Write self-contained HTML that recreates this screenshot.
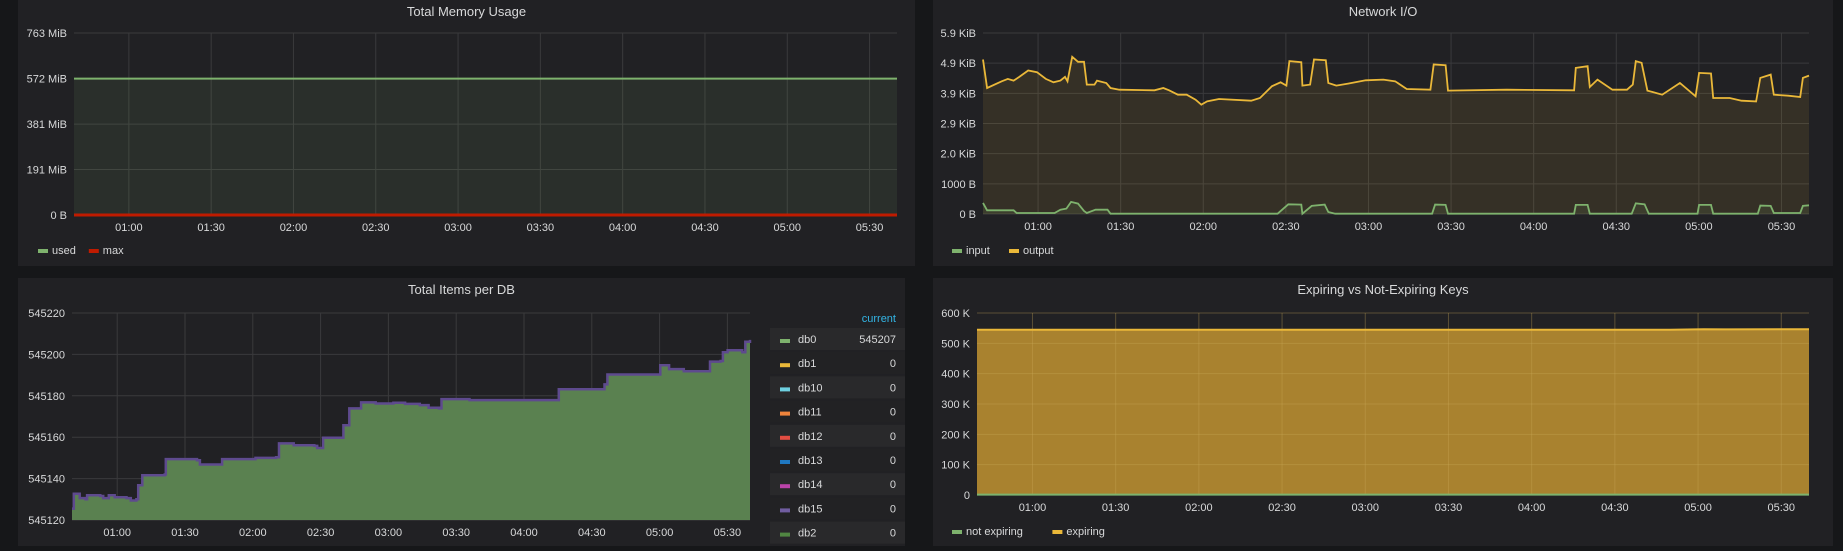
<!DOCTYPE html>
<html><head><meta charset="utf-8">
<style>
html,body{margin:0;padding:0;background:#161719;width:1843px;height:551px;overflow:hidden;font-family:"Liberation Sans",sans-serif;}
svg{display:block}
text{font-family:"Liberation Sans",sans-serif;fill:#d8d9da}
</style></head>
<body>
<svg id="root" width="1843" height="551"></svg>
<script>
// ---------- data ----------
const timeTicks=["01:00","01:30","02:00","02:30","03:00","03:30","04:00","04:30","05:00","05:30"];
const timeTickMin=[20,50,80,110,140,170,200,230,260,290];
// memory
const memTicks=["0 B","191 MiB","381 MiB","572 MiB","763 MiB"];
const memTickVals=[0,191,381,572,763];
const memUsedMin=[0,300];
const memUsed=[572,572];
const memMax=[0,0];
// network
const netTicks=["0 B","1000 B","2.0 KiB","2.9 KiB","3.9 KiB","4.9 KiB","5.9 KiB"];
const netTickVals=[0,1000,2000,3000,4000,5000,6000];
const outMin=[0,1.5,6.8,9.0,11.1,13.2,16.4,19.6,22.8,25.6,28.1,29.8,30.7,32.4,34.5,36.7,37.7,40.5,41.4,44.8,46.3,49.5,62.3,65.5,67.6,70.8,74.0,77.2,79.3,81.4,85.7,97.4,100.6,104.9,108.1,110.2,111.3,115.6,116.0,118.8,120.2,124.5,125.4,128.3,132.6,139.0,145.4,149.7,153.9,162.5,163.7,168.0,168.9,190.2,214.7,215.3,219.6,220.4,223.2,228.6,233.9,236.0,237.1,239.2,241.3,246.7,253.1,258.8,260.1,264.4,265.2,271.2,275.5,280.8,282.3,286.1,287.2,292.5,296.8,297.8,300];
const outVals=[5122,4178,4400,4478,4422,4544,4756,4700,4478,4367,4422,4544,4400,5211,5044,5044,4289,4289,4422,4344,4178,4122,4100,4178,4100,3956,3956,3789,3622,3733,3811,3756,3844,4233,4367,4256,5067,5033,4256,4289,5122,5100,4344,4256,4322,4433,4456,4400,4144,4122,4956,4933,4089,4122,4100,4844,4900,4211,4456,4122,4122,4289,5067,5011,4089,3956,4344,3900,4678,4656,3844,3844,3756,3733,4511,4622,3956,3922,3878,4511,4589];
const inMin=[0,1.5,11.1,12.2,26.0,28.1,30.3,32.0,34.5,36.7,37.7,40.9,45.2,46.3,107.0,110.9,115.6,116.0,119.4,124.1,125.4,127.9,163.1,164.2,168.0,168.9,214.7,215.3,219.6,220.4,235.6,237.1,240.3,241.8,259.5,260.1,264.4,265.2,281.4,282.3,286.1,287.2,296.8,297.8,300];
const inVals=[367,122,122,33,33,144,178,400,344,100,33,144,144,11,11,322,311,11,267,311,67,11,11,311,300,11,11,300,300,11,11,356,322,11,11,300,300,11,11,278,267,33,33,267,289];
// items per db
const dbTicks=["545120","545140","545160","545180","545200","545220"];
const dbTickVals=[545120,545140,545160,545180,545200,545220];
const db0Min=[0,0.8,3.4,6.0,6.7,12.5,13.8,16.3,18.9,24.1,26.0,28.5,29.3,31.1,41.0,41.5,55.3,56.6,64.4,66.4,81.2,90.3,91.6,98.1,107.2,108.5,111.1,118.8,120.1,122.7,127.9,134.4,142.2,147.4,153.9,157.8,162.4,163.5,175.9,214.9,215.4,233.0,235.6,236.9,259.0,260.3,264.2,270.7,281.8,282.3,287.0,288.0,290.1,296.6,297.9,300];
const db0Vals=[545125.5,545132.7,545130.6,545130,545132,545131.6,545130.6,545132,545131,545130.6,545129.4,545130,545136.8,545141.6,545142,545149.4,545148.9,545146.8,545146.8,545149.4,545150,545150.3,545157,545156.1,545155.8,545154.8,545159.7,545159.7,545165.8,545173.9,545176.8,545176.3,545176.6,545176.1,545175.5,545174.2,545173.9,545178.4,545177.9,545177.9,545183.2,545183.2,545185.5,545190.3,545190.3,545194.8,545192.9,545191.9,545191.9,545196.5,545196.8,545201,545202,545201,545206.1,545207];
const dbNames=["db0","db1","db10","db11","db12","db13","db14","db15","db2"];
const dbCurrent=["545207","0","0","0","0","0","0","0","0"];
const dbColors=["#7eb26d","#eab839","#6ed0e0","#ef843c","#e24d42","#1f78c1","#ba43a9","#705da0","#508642"];
// keys
const keyTicks=["0","100 K","200 K","300 K","400 K","500 K","600 K"];
const keyTickVals=[0,100000,200000,300000,400000,500000,600000];
const keyMin=[0,250,262,270,300];
const keyExpiring=[545000,545000,546500,546000,546500];
const keyNotExpiring=[1200,1200,1200,1200,1200];

// ---------- helpers ----------
const NS="http://www.w3.org/2000/svg";
const root=document.getElementById('root');
function mk(tag,attrs,parent){const e=document.createElementNS(NS,tag);for(const k in attrs)e.setAttribute(k,attrs[k]);(parent||root).appendChild(e);return e;}
function scales(p,ymin,ymax){return{x:m=>p.l+(m/300)*(p.r-p.l),y:v=>p.b-(v-ymin)/(ymax-ymin)*(p.b-p.t)};}
function panel(x,y,w,h,title,name){
  const g=mk('g',{});
  
  
  const r=mk('rect',{x:x,y:y,width:w,height:h,fill:'#212124'},g);
  
  
  const t=mk('text',{x:x+w/2,y:y+16,'text-anchor':'middle','font-size':'13'},g);
  t.textContent=title;
  
  
  return g;
}
function axes(g,p,S,tickVals,tickLabels,name){
  tickVals.forEach((v,i)=>{
    const yy=S.y(v);
    const l=mk('line',{x1:p.l,x2:p.r,y1:yy,y2:yy,stroke:'#3a3a3c','stroke-width':1},g);
    
    
    const t=mk('text',{x:p.l-7,y:yy+4,'text-anchor':'end','font-size':'11'},g);
    t.textContent=tickLabels[i];
    
    
  });
  timeTickMin.forEach((m,i)=>{
    const xx=S.x(m);
    const l=mk('line',{x1:xx,x2:xx,y1:p.t,y2:p.b,stroke:'#3a3a3c','stroke-width':1},g);
    
    
    const t=mk('text',{x:xx,y:p.b+16,'text-anchor':'middle','font-size':'11'},g);
    t.textContent=timeTicks[i];
    
    
  });
}
function series(g,S,mins,vals,color,fill,base,name,width,step){
  let d='';
  mins.forEach((m,i)=>{
    if(i&&step) d+='L'+S.x(m).toFixed(1)+','+S.y(vals[i-1]).toFixed(1);
    d+=(i?'L':'M')+S.x(m).toFixed(1)+','+S.y(vals[i]).toFixed(1);
  });
  if(fill){
    const a=mk('path',{d:d+'L'+S.x(mins[mins.length-1])+','+S.y(base)+'L'+S.x(mins[0])+','+S.y(base)+'Z',fill:fill,stroke:'none'},g);
    
    
  }
  const l=mk('path',{d:d,fill:'none',stroke:color,'stroke-width':width||2},g);
  
  
}
function legend(g,x,y,items,name){
  let cx=x;
  items.forEach(it=>{
    const s=mk('rect',{x:cx,y:y-4,width:10,height:4,fill:it[1]},g);
    
    
    const t=mk('text',{x:cx+14,y:y+1,'font-size':'11'},g);
    t.textContent=it[0];
    
    
    cx+=14+it[0].length*6.2+12;
  });
}
// ---------- panel 1 ----------
{
  const g=panel(18,0,897,266,'Total Memory Usage','memory-panel');
  const p={l:74,r:897,t:33,b:215};
  const S=scales(p,0,763);
  axes(g,p,S,memTickVals,memTicks,'memory');
  series(g,S,memUsedMin,memUsed,'#7eb26d','rgba(126,178,109,0.1)',0,'used',2);
  series(g,S,memUsedMin,memMax,'#bf1b00',null,0,'max',3);
  legend(g,38,253,[['used','#7eb26d'],['max','#bf1b00']],'memory');
}
// ---------- panel 2 ----------
{
  const g=panel(933,0,900,266,'Network I/O','network-panel');
  const p={l:983,r:1809,t:33,b:214};
  const S=scales(p,0,6000);
  axes(g,p,S,netTickVals,netTicks,'network');
  series(g,S,outMin,outVals,'#eab839','rgba(234,184,57,0.1)',0,'output',1.8);
  series(g,S,inMin,inVals,'#7eb26d','rgba(126,178,109,0.1)',0,'input',1.8);
  legend(g,952,253,[['input','#7eb26d'],['output','#eab839']],'network');
}
// ---------- panel 3 ----------
{
  const g=panel(18,278,887,268,'Total Items per DB','items-panel');
  const p={l:72,r:750,t:313,b:520};
  const S=scales(p,545120,545220);
  axes(g,p,S,dbTickVals,dbTicks,'items');
  series(g,S,db0Min,db0Vals,'#5e4a8e','#5a8150',545120,'db0',2.5,true);
  const h=mk('text',{x:896,y:322,'text-anchor':'end','font-size':'11',style:'fill:#33b5e5'},g);
  h.textContent='current';
  
  
  dbNames.forEach((n,i)=>{
    const yy=328+i*24.2;
    const row=mk('g',{},g);
    
    
    mk('rect',{x:770,y:yy,width:135,height:22,fill:i%2===0?'#29292b':'#222224'},row);
    mk('rect',{x:780,y:yy+11,width:10,height:4,fill:dbColors[i]},row);
    const t=mk('text',{x:798,y:yy+15,'font-size':'11'},row);
    t.textContent=n;
    const v=mk('text',{x:896,y:yy+15,'text-anchor':'end','font-size':'11'},row);
    v.textContent=dbCurrent[i];
  });
}
// ---------- panel 4 ----------
{
  const g=panel(933,278,900,268,'Expiring vs Not-Expiring Keys','keys-panel');
  const p={l:977,r:1809,t:313,b:495};
  const S=scales(p,0,600000);
  let d='';
  keyMin.forEach((m,i)=>{d+=(i?'L':'M')+S.x(m).toFixed(1)+','+S.y(keyExpiring[i]).toFixed(1);});
  const a=mk('path',{d:d+'L'+p.r+','+p.b+'L'+p.l+','+p.b+'Z',fill:'#a9822f'},g);
  
  
  axes(g,p,S,keyTickVals,keyTicks,'keys');
  g.querySelectorAll('line').forEach(l=>l.setAttribute('stroke','rgba(200,170,90,0.35)'));
  series(g,S,keyMin,keyExpiring,'#eab839',null,0,'expiring',2);
  series(g,S,keyMin,keyNotExpiring,'#7eb26d',null,0,'not-expiring',2);
  legend(g,952,534,[['not expiring','#7eb26d'],['expiring','#eab839']],'keys');
}
</script>
</body></html>
